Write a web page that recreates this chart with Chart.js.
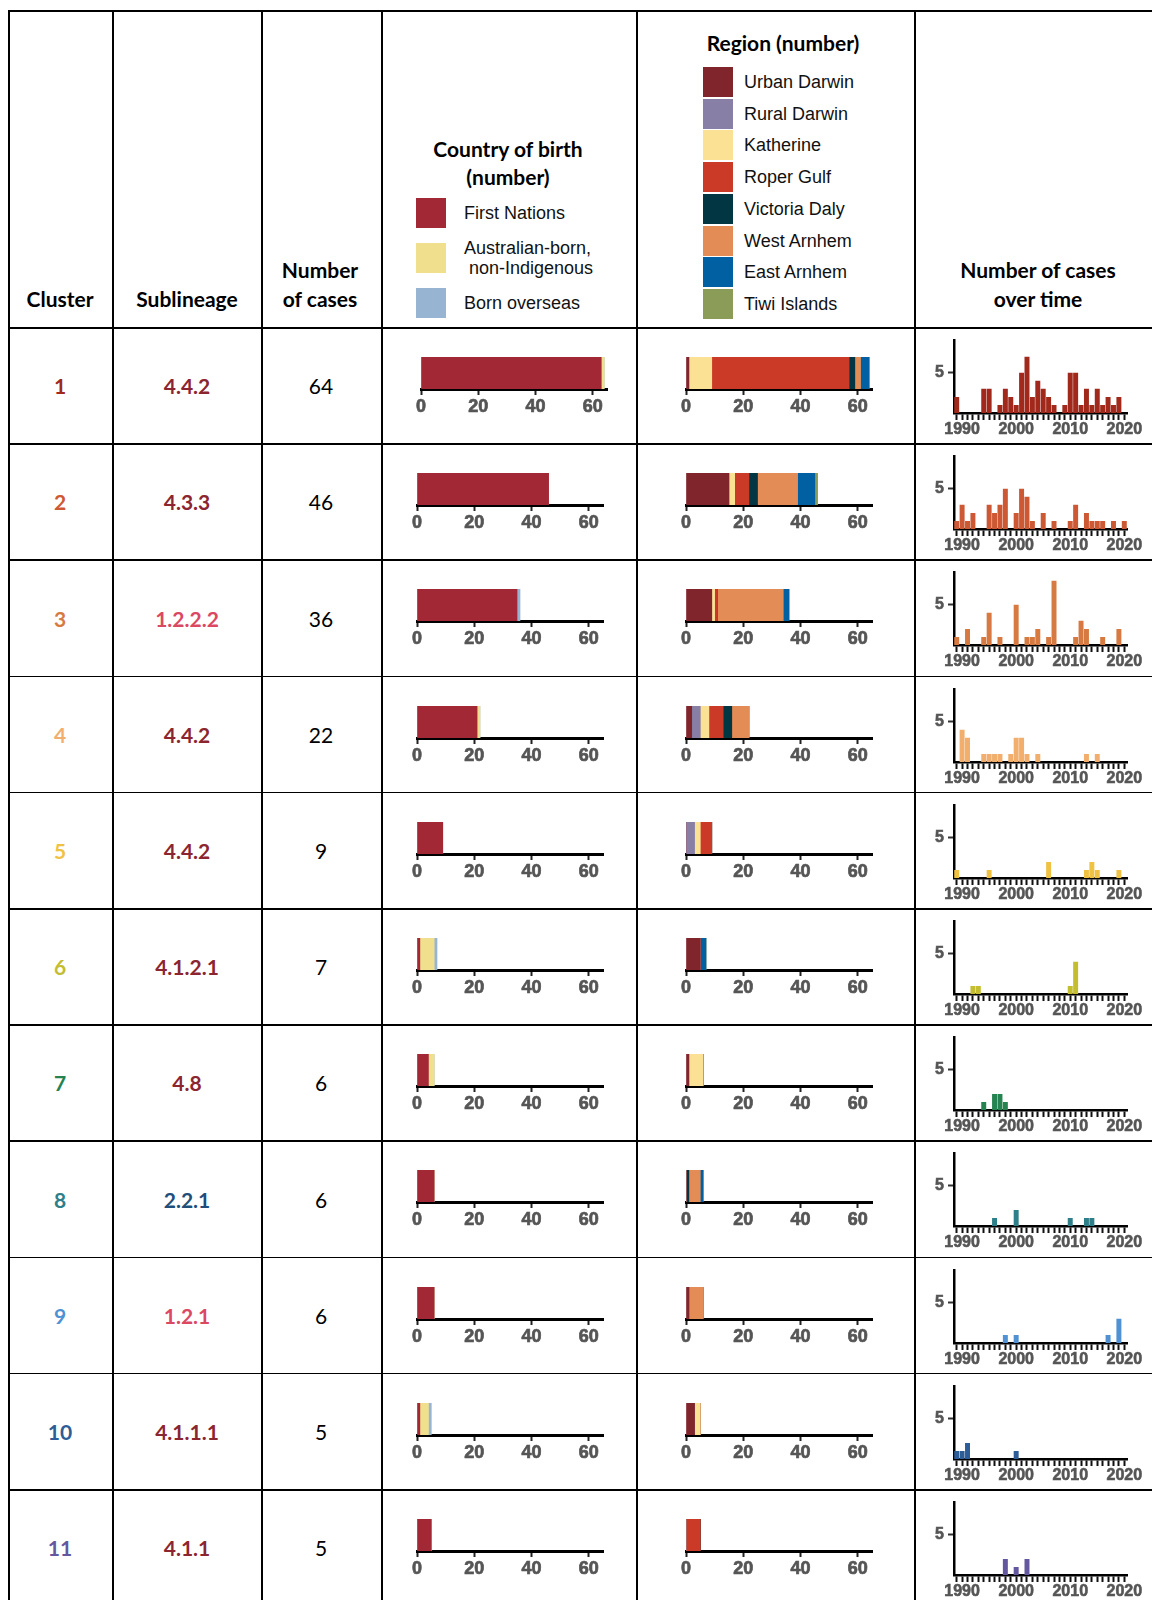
<!DOCTYPE html>
<html>
<head>
<meta charset="utf-8">
<script src="https://cdn.jsdelivr.net/npm/chart.js@4.4.0/dist/chart.umd.min.js"></script>
<style>
  body { margin: 0; background: #fff; overflow: hidden; }
  #sheet { position: relative; width: 1152px; height: 1600px; overflow: hidden; }
  .line { position: absolute; background: #000; }
  .t { position: absolute; white-space: pre; line-height: 1; color: #000; }
  .head { font: 700 21px Lato, sans-serif; }
  .bold { font: 700 21px Lato, sans-serif; }
  .num { font: 400 21px Lato, sans-serif; }
  .leg { font: 400 18px "Liberation Sans", Arial, sans-serif; color: #111; }
  .swatch { position: absolute; }
  canvas { position: absolute; }
</style>
</head>
<body>
<div id="sheet"></div>
<script>
// one row per cluster
var clusters = ['1', '2', '3', '4', '5', '6', '7', '8', '9', '10', '11'];
var sublineages = ['4.4.2', '4.3.3', '1.2.2.2', '4.4.2', '4.4.2', '4.1.2.1', '4.8', '2.2.1', '1.2.1', '4.1.1.1', '4.1.1'];
var caseCounts = [64, 46, 36, 22, 9, 7, 6, 6, 6, 5, 5];

// country of birth
var birthGroups = ['First Nations', 'Australian-born,\n non-Indigenous', 'Born overseas'];
var firstNations = [63, 46, 35, 21, 9, 1, 4, 6, 6, 1, 5];
var australianBorn = [1, 0, 0, 1, 0, 5, 2, 0, 0, 3, 0];
var bornOverseas = [0, 0, 1, 0, 0, 1, 0, 0, 0, 1, 0];

// region
var regions = ['Urban Darwin', 'Rural Darwin', 'Katherine', 'Roper Gulf', 'Victoria Daly', 'West Arnhem', 'East Arnhem', 'Tiwi Islands'];
var urbanDarwin = [1, 15, 9, 2, 0, 5, 1, 0, 1, 3, 0];
var ruralDarwin = [0, 0, 0, 3, 3, 0, 0, 0, 0, 0, 0];
var katherine = [8, 2, 1, 3, 2, 0, 5, 0, 0, 2, 0];
var roperGulf = [48, 5, 1, 5, 4, 0, 0, 0, 0, 0, 5];
var victoriaDaly = [2, 3, 0, 3, 0, 0, 0, 1, 0, 0, 0];
var westArnhem = [2, 14, 23, 6, 0, 0, 0, 4, 5, 0, 0];
var eastArnhem = [3, 6, 2, 0, 0, 2, 0, 1, 0, 0, 0];
var tiwiIslands = [0, 1, 0, 0, 0, 0, 0, 0, 0, 0, 0];

// cases per year, 1989 - 2020
var years = [];
for (var y = 1989; y <= 2020; y++) years.push(String(y));
var yearTicks = ['1990', '2000', '2010', '2020'];
var cases1  = [2,0,0,0,0, 3,3,0,1,3, 2,1,5,7,2, 4,3,2,1,0, 1,5,5,1,3, 1,3,1,2,1, 2,0];
var cases2  = [1,3,1,2,0, 0,3,2,3,5, 0,2,5,4,1, 0,2,0,1,0, 0,1,3,0,2, 1,1,1,0,1, 0,1];
var cases3  = [1,0,2,0,0, 1,4,0,1,0, 0,5,0,1,1, 2,0,1,8,0, 0,0,1,3,2, 0,0,1,0,0, 2,0];
var cases4  = [0,4,3,0,0, 1,1,1,1,0, 1,3,3,1,0, 1,0,0,0,0, 0,0,0,0,1, 0,1,0,0,0, 0,0];
var cases5  = [1,0,0,0,0, 0,1,0,0,0, 0,0,0,0,0, 0,0,2,0,0, 0,0,0,0,1, 2,1,0,0,0, 1,0];
var cases6  = [0,0,0,1,1, 0,0,0,0,0, 0,0,0,0,0, 0,0,0,0,0, 0,1,4,0,0, 0,0,0,0,0, 0,0];
var cases7  = [0,0,0,0,0, 1,0,2,2,1, 0,0,0,0,0, 0,0,0,0,0, 0,0,0,0,0, 0,0,0,0,0, 0,0];
var cases8  = [0,0,0,0,0, 0,0,1,0,0, 0,2,0,0,0, 0,0,0,0,0, 0,1,0,0,1, 1,0,0,0,0, 0,0];
var cases9  = [0,0,0,0,0, 0,0,0,0,1, 0,1,0,0,0, 0,0,0,0,0, 0,0,0,0,0, 0,0,0,1,0, 3,0];
var cases10 = [1,1,2,0,0, 0,0,0,0,0, 0,1,0,0,0, 0,0,0,0,0, 0,0,0,0,0, 0,0,0,0,0, 0,0];
var cases11 = [0,0,0,0,0, 0,0,0,0,2, 0,1,0,2,0, 0,0,0,0,0, 0,0,0,0,0, 0,0,0,0,0, 0,0];
var yearlyCases = [cases1, cases2, cases3, cases4, cases5, cases6, cases7, cases8, cases9, cases10, cases11];

// colours
var clusterColors = ['#A0291C', '#CD5834', '#D67A42', '#F2AE6C', '#F0C244', '#C4BD30',
                     '#248350', '#2D7F89', '#4F91D2', '#2D5D97', '#6357A0'];
var lineageRed = '#8B2530', lineagePink = '#DB4862', lineageBlue = '#1F4E7A';
var sublineageColors = [lineageRed, lineageRed, lineagePink, lineageRed, lineageRed, lineageRed,
                        lineageRed, lineageBlue, lineagePink, lineageRed, lineageRed];
var birthColors = ['#A32836', '#F0E08E', '#97B5D3'];
var regionColors = ['#7F252B', '#877FA6', '#FBE194', '#CA3A26', '#013642', '#E38C56', '#0160A1', '#8B9C58'];

var sheet = document.getElementById('sheet');
var HEAD_TOP = 10, HEAD_BOTTOM = 327, ROW_H = 116.2;
var colEdges = [8, 112, 261, 381, 636, 914];
var TICK_GREY = '#555';

Chart.defaults.animation = false;
Chart.defaults.font.family = 'Arial';

function axisFont(size) {
  return { family: 'Arial', style: 'normal', weight: 'bold', size: size };
}

function addLine(x, y, w, h) {
  var d = document.createElement('div');
  d.className = 'line';
  d.style.left = x + 'px'; d.style.top = y + 'px';
  d.style.width = w + 'px'; d.style.height = h + 'px';
  sheet.appendChild(d);
}

function addText(text, x, y, cls, color, align) {
  var d = document.createElement('div');
  d.className = 't ' + cls;
  d.textContent = text;
  d.style.left = x + 'px';
  d.style.top = y + 'px';
  d.style.transform = align === 'left' ? 'translate(0,-50%)' : 'translate(-50%,-50%)';
  if (color) d.style.color = color;
  sheet.appendChild(d);
  return d;
}

function addSwatch(x, y, w, h, color) {
  var d = document.createElement('div');
  d.className = 'swatch';
  d.style.left = x + 'px'; d.style.top = y + 'px';
  d.style.width = w + 'px'; d.style.height = h + 'px';
  d.style.background = color;
  sheet.appendChild(d);
}

function addCanvas(left, top, width, height) {
  var c = document.createElement('canvas');
  c.width = width; c.height = height;
  c.style.left = left + 'px'; c.style.top = top + 'px';
  c.style.width = width + 'px'; c.style.height = height + 'px';
  sheet.appendChild(c);
  return c;
}

// table grid
addLine(8, HEAD_TOP, 1144, 1.5);
colEdges.forEach(function (x) { addLine(x, HEAD_TOP, 1.5, 1600); });
for (var r = 0; r <= clusters.length; r++) addLine(8, HEAD_BOTTOM + r * ROW_H, 1144, 1.5);

// header
addText('Cluster', 60, 298, 'head');
addText('Sublineage', 187, 298, 'head');
addText('Number', 320, 269, 'head');
addText('of cases', 320, 298, 'head');
addText('Country of birth', 508, 148, 'head');
addText('(number)', 508, 176, 'head');
addText('Region (number)', 783, 42, 'head');
addText('Number of cases', 1038, 269, 'head');
addText('over time', 1038, 298, 'head');

var birthSwatchTops = [198, 243, 288];
birthGroups.forEach(function (g, k) {
  addSwatch(416, birthSwatchTops[k], 30, 30, birthColors[k]);
  var el = addText(g, 464, birthSwatchTops[k] + 15, 'leg', null, 'left');
  if (g.indexOf('\n') >= 0) el.style.lineHeight = '20px';
});
regions.forEach(function (g, k) {
  var top = 67 + k * 31.7;
  addSwatch(703, top, 30, 30, regionColors[k]);
  addText(g, 744, top + 15, 'leg', null, 'left');
});

function stackedBar(canvas, names, values, colors, padLeft, padRight) {
  return new Chart(canvas, {
    type: 'bar',
    data: {
      labels: ['n'],
      datasets: names.map(function (name, k) {
        return {
          label: name,
          data: [values[k]],
          backgroundColor: colors[k],
          borderWidth: 0,
          barPercentage: 1,
          categoryPercentage: 1
        };
      })
    },
    options: {
      indexAxis: 'y',
      responsive: false,
      layout: { padding: { left: padLeft, right: padRight, top: 30, bottom: 0 } },
      plugins: { legend: { display: false }, tooltip: { enabled: false } },
      scales: {
        y: { stacked: true, display: false },
        x: {
          stacked: true, min: 0, max: 65,
          afterBuildTicks: function (s) { s.ticks = [0, 20, 40, 60].map(function (v) { return { value: v }; }); },
          afterFit: function (s) { s.height = 30; },
          grid: { drawOnChartArea: false, tickLength: 6, tickWidth: 2, tickColor: '#222' },
          border: { color: '#000', width: 3 },
          ticks: { color: TICK_GREY, font: axisFont(18), padding: 1, maxRotation: 0,
                   textStrokeColor: TICK_GREY, textStrokeWidth: 0.7 }
        }
      }
    }
  });
}

function timeBars(canvas, values, color) {
  return new Chart(canvas, {
    type: 'bar',
    data: {
      labels: years,
      datasets: [{ data: values, backgroundColor: color, borderWidth: 0, barPercentage: 0.92, categoryPercentage: 1 }]
    },
    options: {
      responsive: false,
      layout: { padding: { left: 0, right: 25, top: 10, bottom: 0 } },
      plugins: { legend: { display: false }, tooltip: { enabled: false } },
      scales: {
        x: {
          afterFit: function (s) { s.height = 30; },
          grid: { offset: false, drawOnChartArea: false, tickLength: 7, tickWidth: 2, tickColor: '#111' },
          border: { color: '#000', width: 2.5 },
          ticks: {
            autoSkip: false, maxRotation: 0, minRotation: 0, padding: 0,
            color: TICK_GREY, font: axisFont(16), textStrokeColor: TICK_GREY, textStrokeWidth: 0.6,
            callback: function (v) {
              var lab = this.getLabelForValue(v);
              return yearTicks.indexOf(lab) >= 0 ? lab : '';
            }
          }
        },
        y: {
          min: 0, max: 9,
          afterBuildTicks: function (s) { s.ticks = [{ value: 5 }]; },
          afterFit: function (s) { s.width = 40; },
          grid: { drawOnChartArea: false, tickLength: 6, tickWidth: 2, tickColor: '#333' },
          border: { color: '#000', width: 2.5 },
          ticks: { color: TICK_GREY, font: axisFont(16), padding: 4,
                   textStrokeColor: TICK_GREY, textStrokeWidth: 0.6 }
        }
      }
    }
  });
}

clusters.forEach(function (cl, i) {
  var top = HEAD_BOTTOM + i * ROW_H;
  var mid = top + ROW_H / 2;
  addText(cl, 60, mid, 'bold', clusterColors[i]);
  addText(sublineages[i], 187, mid, 'bold', sublineageColors[i]);
  addText(String(caseCounts[i]), 321, mid, 'num');

  var shift = i === 0 ? 4 : 0;
  stackedBar(addCanvas(381, top, 255, 92), birthGroups,
    [firstNations[i], australianBorn[i], bornOverseas[i]], birthColors, 36 + shift, 33 - shift);

  stackedBar(addCanvas(636, top, 278, 92), regions,
    [urbanDarwin[i], ruralDarwin[i], katherine[i], roperGulf[i], victoriaDaly[i],
     westArnhem[i], eastArnhem[i], tiwiIslands[i]], regionColors, 50, 42);

  timeBars(addCanvas(914, top, 238, 116), yearlyCases[i], clusterColors[i]);
});
</script>
</body>
</html>
